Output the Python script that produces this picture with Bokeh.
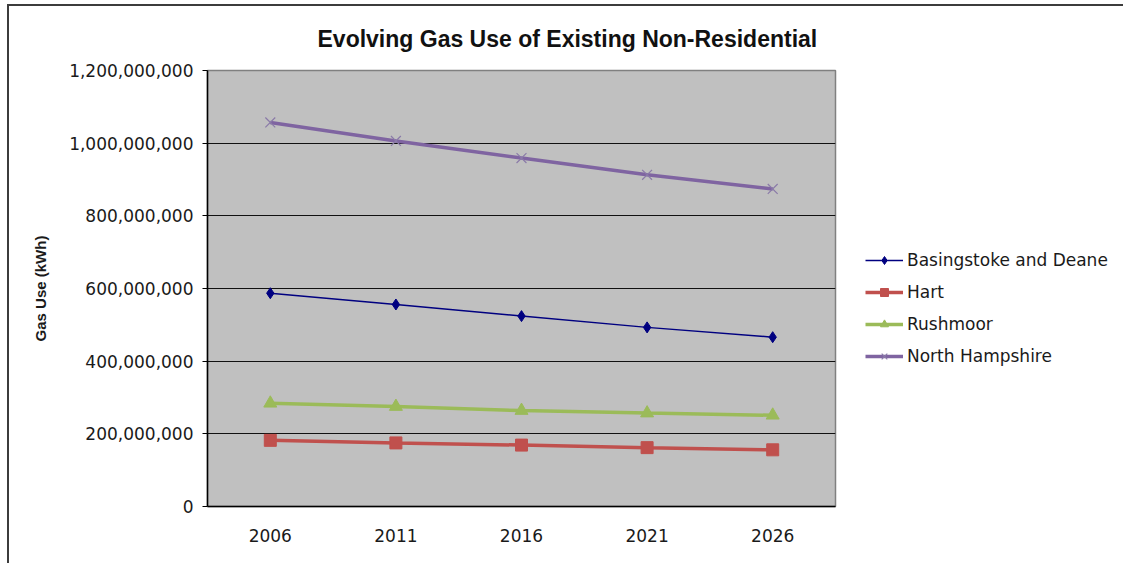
from bokeh.plotting import figure
from bokeh.models import (FixedTicker, NumeralTickFormatter, Legend, LegendItem,
                          Title, Range1d)
from bokeh.embed import file_html
from bokeh.resources import INLINE

# Gas use of existing non-residential buildings (kWh)
years = ["2006", "2011", "2016", "2021", "2026"]
basingstoke = [587_000_000, 556_000_000, 524_000_000, 493_000_000, 466_000_000]
hart = [182_000_000, 175_000_000, 169_000_000, 162_000_000, 156_000_000]
rushmoor = [284_000_000, 275_000_000, 264_000_000, 257_000_000, 251_000_000]
north_hampshire = [1_057_000_000, 1_006_000_000, 959_000_000, 913_000_000, 874_000_000]

y_ticks = [0, 200_000_000, 400_000_000, 600_000_000, 800_000_000, 1_000_000_000, 1_200_000_000]

FONT = "DejaVu Sans"

p = figure(x_range=years, y_range=Range1d(0, 1_200_000_000),
           frame_width=628, frame_height=436, output_backend="svg", toolbar_location=None,
           min_border_left=198, min_border_right=288, min_border_top=64, min_border_bottom=57,
           background_fill_color="#c0c0c0", border_fill_color="white")

# outer chart border (left and top edges are in view)
p.styles = {"margin-left": "7px", "margin-top": "4px",
            "border-left": "2px solid #3c3c3c", "border-top": "2px solid #3c3c3c"}

p.outline_line_color = "#808080"
p.outline_line_width = 1.5

# series
r_bd_l = p.line(years, basingstoke, line_color="#000080", line_width=1.5)
r_bd_m = p.scatter(years, basingstoke, marker="diamond", size=11,
                   fill_color="#000080", line_color="#000080")
r_h_l = p.line(years, hart, line_color="#c0504d", line_width=3.5)
r_h_m = p.scatter(years, hart, marker="square", size=12,
                  fill_color="#c0504d", line_color="#c0504d")
r_r_l = p.line(years, rushmoor, line_color="#9bbb59", line_width=3.5)
r_r_m = p.scatter(years, rushmoor, marker="triangle", size=13,
                  fill_color="#9bbb59", line_color="#9bbb59")
r_nh_l = p.line(years, north_hampshire, line_color="#7f64a1", line_width=3.5)
r_nh_m = p.scatter(years, north_hampshire, marker="x", size=14,
                   line_color="#8a7aa8", line_width=1.2)

# axes
p.yaxis.ticker = FixedTicker(ticks=y_ticks)
p.yaxis.formatter = NumeralTickFormatter(format="0,0")
p.yaxis.major_label_text_font = FONT
p.yaxis.major_label_text_font_size = "17px"
p.yaxis.major_label_text_color = "#1a1a1a"
p.yaxis.major_tick_out = 5
p.yaxis.major_tick_in = 0
p.yaxis.minor_tick_out = 0
p.yaxis.minor_tick_in = 0
p.yaxis.major_tick_line_color = "black"
p.yaxis.major_label_standoff = 9
p.yaxis.axis_line_color = "black"
p.yaxis.axis_line_width = 1.5
p.yaxis.axis_label = "Gas Use (kWh)"
p.yaxis.axis_label_text_font = "Liberation Sans"
p.yaxis.axis_label_text_font_style = "bold"
p.yaxis.axis_label_text_font_size = "15px"
p.yaxis.axis_label_text_color = "#1a1a1a"
p.yaxis.axis_label_standoff = 17

p.xaxis.major_label_text_font = FONT
p.xaxis.major_label_text_font_size = "17px"
p.xaxis.major_label_text_color = "#1a1a1a"
p.xaxis.major_tick_out = 0
p.xaxis.major_tick_in = 0
p.xaxis.major_label_standoff = 22
p.xaxis.axis_line_color = "black"
p.xaxis.axis_line_width = 1.5

p.xgrid.grid_line_color = None
p.ygrid.grid_line_color = "#111111"
p.ygrid.grid_line_width = 1

# legend to the right of the plot area
legend = Legend(items=[
    LegendItem(label="Basingstoke and Deane", renderers=[r_bd_l, r_bd_m]),
    LegendItem(label="Hart", renderers=[r_h_l, r_h_m]),
    LegendItem(label="Rushmoor", renderers=[r_r_l, r_r_m]),
    LegendItem(label="North Hampshire", renderers=[r_nh_l, r_nh_m]),
], location=(30, 140))
legend.border_line_color = None
legend.background_fill_alpha = 0
legend.padding = 0
legend.margin = 0
legend.spacing = 12
legend.glyph_width = 38
legend.glyph_height = 20
legend.label_height = 20
legend.label_standoff = 4
legend.label_text_font = FONT
legend.label_text_font_size = "17px"
legend.label_text_color = "#1a1a1a"
p.add_layout(legend, "right")

# chart title
p.add_layout(Title(text="Evolving Gas Use of Existing Non-Residential",
                   text_font="Liberation Sans", text_font_style="bold",
                   text_font_size="23px", text_color="#111111",
                   align="left", vertical_align="top", offset=110, standoff=34), "above")

open("out.html", "w").write(file_html(p, INLINE))
